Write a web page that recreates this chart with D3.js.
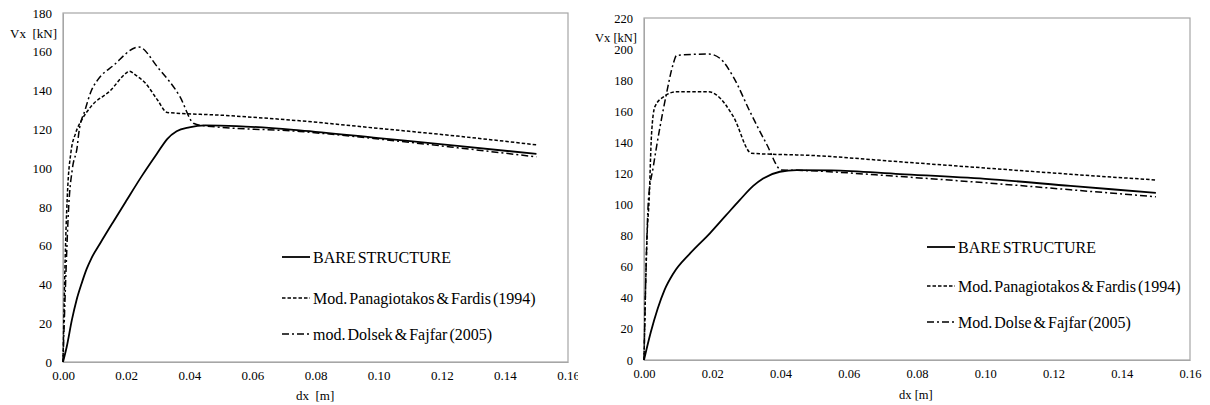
<!DOCTYPE html>
<html><head><meta charset="utf-8">
<script src="https://cdn.jsdelivr.net/npm/d3@7"></script>
<style>
html,body{margin:0;padding:0;background:#fff;}
</style></head>
<body>
<svg id="chart" width="1210" height="405"></svg>
<script>
// ---------- DATA (dx [m], Vx [kN]) ----------
const xTicks = [0, 0.02, 0.04, 0.06, 0.08, 0.10, 0.12, 0.14, 0.16];
const leftYTicks = [0, 20, 40, 60, 80, 100, 120, 140, 160, 180];
const rightYTicks = [0, 20, 40, 60, 80, 100, 120, 140, 160, 180, 200, 220];

const leftLegend = ["BARE STRUCTURE", "Mod. Panagiotakos & Fardis (1994)", "mod. Dolsek & Fajfar (2005)"];
const rightLegend = ["BARE STRUCTURE", "Mod. Panagiotakos & Fardis (1994)", "Mod. Dolse & Fajfar (2005)"];

const leftBare = [[0,0],[0.0012,8],[0.0028,21.6],[0.0043,32],[0.0059,40.5],[0.0075,48],[0.009,53.5],[0.0117,61],[0.016,72.5],[0.020,83],[0.025,96],[0.030,108],[0.033,115],[0.036,119],[0.040,121],[0.045,122],[0.055,121.7],[0.075,119.5],[0.10,115.5],[0.125,111.5],[0.15,107.3]];
const leftPanag = [[0,0],[0.0008,60],[0.0015,90],[0.0025,108],[0.004,118],[0.006,125],[0.009,132],[0.015,140],[0.020,149],[0.021,150],[0.023,148],[0.026,144],[0.030,135],[0.033,128.7],[0.05,127.3],[0.075,124.4],[0.10,120.5],[0.125,116.5],[0.15,112]];
const leftDolsek = [[0,0],[0.0008,40],[0.0018,80],[0.003,100],[0.0045,111],[0.005,118],[0.007,130],[0.009,140],[0.011,145.5],[0.016,153],[0.024,162.5],[0.030,152],[0.037,137],[0.0415,123],[0.045,121.8],[0.075,118.9],[0.10,115],[0.125,110.5],[0.15,105.8]];

const rightBare = [[0,0],[0.002,18],[0.004,33],[0.006,45],[0.0086,55.7],[0.0135,68.6],[0.0193,81.5],[0.024,93],[0.0281,103],[0.032,112],[0.0349,116.8],[0.0398,121.1],[0.0447,122.2],[0.055,122],[0.075,119.6],[0.10,116.5],[0.125,112],[0.15,107.5]];
const rightPanag = [[0,0],[0.0005,50],[0.0009,80],[0.0015,103],[0.0022,145],[0.0032,163],[0.0057,169.3],[0.0096,172.6],[0.019,172.6],[0.0213,170.4],[0.0262,156.5],[0.0315,133],[0.05,131.5],[0.075,127.5],[0.10,123.5],[0.125,119.5],[0.15,115.8]];
const rightDolse = [[0,0],[0.0005,50],[0.0013,103],[0.0027,124],[0.0047,150],[0.0066,171.5],[0.0085,190],[0.0096,196],[0.019,196.8],[0.0223,194],[0.0262,182],[0.031,160],[0.0359,139],[0.0403,122.2],[0.045,122],[0.075,118],[0.10,114],[0.125,109.5],[0.15,105]];

// ---------- STYLES ----------
const FONT = "'Liberation Serif', 'Times New Roman', Times, serif";
const styles = [
  {dash: null, width: 1.8},
  {dash: "3.5,2", width: 1.5},
  {dash: "7,3,2,3", width: 1.5}
];

const svg = d3.select("#chart");
const defs = svg.append("defs");
defs.append("clipPath").attr("id","leftClip").append("rect")
  .attr("x",0).attr("y",0).attr("width",578).attr("height",405);

function drawChart(cfg) {
  const g = svg.append("g");
  const x = d3.scaleLinear().domain([0, 0.16]).range([cfg.left, cfg.right]);
  const y = d3.scaleLinear().domain([0, cfg.yMax]).range([cfg.bottom, cfg.top]);

  g.append("rect")
    .attr("x", cfg.left).attr("y", cfg.top)
    .attr("width", cfg.right - cfg.left).attr("height", cfg.bottom - cfg.top)
    .attr("fill", "none").attr("stroke", "#a6a6a6").attr("stroke-width", 1.2);

  const yAxis = g.append("g").attr("transform", `translate(${cfg.left},0)`)
    .call(d3.axisLeft(y).tickValues(cfg.yTicks).tickSize(0).tickPadding(11).tickFormat(d3.format("d")));
  yAxis.attr("font-family", null);
  yAxis.select(".domain").attr("stroke", "#a6a6a6");
  yAxis.selectAll("text").style("font-family", FONT).style("font-size", cfg.tickSize + "px").attr("fill", "#000");

  const xAxis = g.append("g").attr("transform", `translate(0,${cfg.bottom})`)
    .call(d3.axisBottom(x).tickValues(xTicks).tickSize(0).tickPadding(9).tickFormat(d3.format(".2f")));
  xAxis.attr("font-family", null);
  xAxis.select(".domain").attr("stroke", "#a6a6a6");
  xAxis.selectAll("text").style("font-family", FONT).style("font-size", cfg.tickSize + "px").attr("fill", "#000");
  if (cfg.clip) xAxis.attr("clip-path", "url(#leftClip)");

  g.append("text").attr("x", cfg.yTitleX).attr("y", cfg.yTitleY)
    .attr("text-anchor", "end").style("font-family", FONT).style("font-size", cfg.tickSize + "px")
    .style("white-space","pre").text(cfg.yTitle);
  g.append("text").attr("x", cfg.xTitleX).attr("y", cfg.xTitleY)
    .style("font-family", FONT).style("font-size", cfg.tickSize + "px")
    .style("white-space","pre").text(cfg.xTitle);

  const line = d3.line().x(d => x(d[0])).y(d => y(d[1])).curve(d3.curveMonotoneX);
  cfg.series.forEach((s, i) => {
    g.append("path").datum(s)
      .attr("d", line)
      .attr("fill", "none").attr("stroke", "#000")
      .attr("stroke-width", styles[i].width)
      .attr("stroke-dasharray", styles[i].dash);
  });

  cfg.legend.forEach((name, i) => {
    const ly = cfg.legendY[i];
    g.append("line")
      .attr("x1", cfg.legendX).attr("x2", cfg.legendX + 28)
      .attr("y1", ly).attr("y2", ly)
      .attr("stroke", "#000").attr("stroke-width", styles[i].width)
      .attr("stroke-dasharray", styles[i].dash);
    g.append("text").attr("x", cfg.legendX + 31).attr("y", ly + 5.5)
      .style("font-family", FONT).style("font-size", "16px").style("word-spacing", "-2px")
      .text(name);
  });
}

drawChart({
  left: 63, right: 568, top: 13, bottom: 362, yMax: 180, yTicks: leftYTicks, tickSize: 13,
  yTitle: "Vx  [kN]", yTitleX: 57, yTitleY: 37.5,
  xTitle: "dx  [m]", xTitleX: 296, xTitleY: 400,
  series: [leftBare, leftPanag, leftDolsek], legend: leftLegend,
  legendX: 282, legendY: [257, 298, 334], clip: true
});

drawChart({
  left: 644, right: 1190, top: 18, bottom: 360, yMax: 220, yTicks: rightYTicks, tickSize: 12.5,
  yTitle: "Vx [kN]", yTitleX: 637, yTitleY: 42,
  xTitle: "dx [m]", xTitleX: 899, xTitleY: 399,
  series: [rightBare, rightPanag, rightDolse], legend: rightLegend,
  legendX: 927, legendY: [247, 286, 322], clip: false
});
</script>
</body></html>
